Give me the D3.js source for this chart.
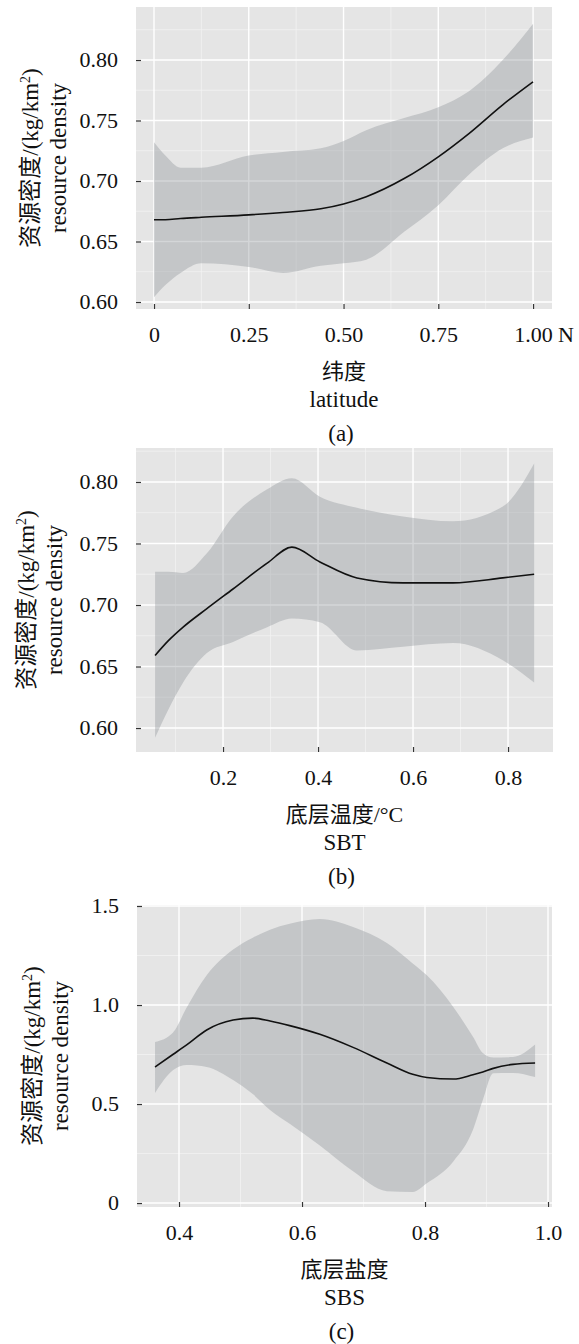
<!DOCTYPE html>
<html lang="zh">
<head>
<meta charset="utf-8">
<title>资源密度 smooth fits</title>
<script src="https://cdn.jsdelivr.net/npm/d3@7"></script>
<style>
  body { margin: 0; background: #fff; }
  svg { display: block; }
  text { font-family: "Liberation Serif", "Noto Sans CJK SC", serif; fill: #111; }
  .axis text { font-size: 22px; font-family: "Liberation Serif", serif; }
  .title { font-size: 23px; }
  .cjk { font-size: 22px; }
  .panel-bg { fill: #e5e5e5; }
  .grid-major { stroke: #fff; stroke-width: 1.4; }
  .grid-minor { stroke: #f3f3f3; stroke-width: 0.8; }
  .band { fill: #8e9399; fill-opacity: 0.38; }
  .fit { fill: none; stroke: #111; stroke-width: 1.6; }
  .axis line { stroke: #333; stroke-width: 1.2; }
  .axis path { display: none; }
</style>
</head>
<body>
<script>
// (a) latitude
var latX     = [0, 0.03, 0.07, 0.125, 0.25, 0.34, 0.44, 0.5, 0.56, 0.66, 0.75, 0.83, 0.92, 1.0];
var latFit   = [0.668, 0.668, 0.669, 0.670, 0.672, 0.674, 0.677, 0.681, 0.687, 0.702, 0.720, 0.739, 0.763, 0.782];
var latUpper = [0.732, 0.721, 0.711, 0.711, 0.721, 0.724, 0.727, 0.733, 0.742, 0.752, 0.761, 0.774, 0.800, 0.830];
var latLower = [0.604, 0.614, 0.624, 0.632, 0.629, 0.624, 0.630, 0.632, 0.635, 0.658, 0.680, 0.705, 0.727, 0.736];
var latXTicks = [0, 0.25, 0.5, 0.75, 1.0];
var latXTickLabels = ["0", "0.25", "0.50", "0.75", "1.00"];

// (b) SBT
var sbtX     = [0.057, 0.085, 0.116, 0.166, 0.221, 0.293, 0.345, 0.404, 0.482, 0.579, 0.684, 0.789, 0.855];
var sbtFit   = [0.659, 0.671, 0.682, 0.697, 0.713, 0.734, 0.747, 0.735, 0.722, 0.718, 0.718, 0.722, 0.725];
var sbtUpper = [0.727, 0.727, 0.726, 0.742, 0.772, 0.794, 0.803, 0.788, 0.779, 0.772, 0.768, 0.780, 0.815];
var sbtLower = [0.592, 0.615, 0.637, 0.661, 0.670, 0.682, 0.689, 0.686, 0.663, 0.666, 0.669, 0.655, 0.637];
var sbtXTicks = [0.2, 0.4, 0.6, 0.8];
var sbtXTickLabels = ["0.2", "0.4", "0.6", "0.8"];

// (c) SBS
var sbsX     = [0.361, 0.39, 0.413, 0.445, 0.488, 0.52, 0.548, 0.58, 0.629, 0.683, 0.738, 0.78, 0.803, 0.846, 0.878, 0.894, 0.911, 0.943, 0.979];
var sbsFit   = [0.687, 0.75, 0.80, 0.874, 0.924, 0.934, 0.919, 0.896, 0.852, 0.786, 0.707, 0.650, 0.634, 0.626, 0.648, 0.662, 0.680, 0.700, 0.707];
var sbsUpper = [0.813, 0.86, 0.99, 1.15, 1.28, 1.34, 1.38, 1.41, 1.434, 1.394, 1.313, 1.21, 1.15, 0.99, 0.84, 0.758, 0.735, 0.737, 0.80];
var sbsLower = [0.556, 0.67, 0.697, 0.687, 0.621, 0.55, 0.47, 0.40, 0.29, 0.16, 0.06, 0.056, 0.10, 0.21, 0.37, 0.52, 0.655, 0.657, 0.636];
var sbsXTicks = [0.4, 0.6, 0.8, 1.0];
var sbsXTickLabels = ["0.4", "0.6", "0.8", "1.0"];

// y axis ticks
var densYTicks = [0.60, 0.65, 0.70, 0.75, 0.80];
var densYTickLabels = ["0.60", "0.65", "0.70", "0.75", "0.80"];
var sbsYTicks = [0, 0.5, 1.0, 1.5];
var sbsYTickLabels = ["0", "0.5", "1.0", "1.5"];

var panels = [
  { xs: latX, fit: latFit, upper: latUpper, lower: latLower,
    xTicks: latXTicks, xLabels: latXTickLabels, yTicks: densYTicks, yLabels: densYTickLabels,
    xTitle: "纬度", xTitleEn: "latitude", tag: "(a)", unit: "N",
    left: 136, right: 552, top: 7, bottom: 309,
    xDomain: [-0.0475, 1.05], yDomain: [0.5942, 0.8438], yTitleX: [38, 66] },
  { xs: sbtX, fit: sbtFit, upper: sbtUpper, lower: sbtLower,
    xTicks: sbtXTicks, xLabels: sbtXTickLabels, yTicks: densYTicks, yLabels: densYTickLabels,
    xTitle: "底层温度/°C", xTitleEn: "SBT", tag: "(b)",
    left: 136, right: 553, top: 448, bottom: 752,
    xDomain: [0.0168, 0.8947], yDomain: [0.5805, 0.8276], yTitleX: [34, 62] },
  { xs: sbsX, fit: sbsFit, upper: sbsUpper, lower: sbsLower,
    xTicks: sbsXTicks, xLabels: sbsXTickLabels, yTicks: sbsYTicks, yLabels: sbsYTickLabels,
    xTitle: "底层盐度", xTitleEn: "SBS", tag: "(c)",
    left: 137, right: 552, top: 905, bottom: 1207,
    xDomain: [0.3317, 1.0065], yDomain: [-0.02, 1.505], yTitleX: [40, 68] }
];

var svg = d3.select("body").append("svg")
  .attr("width", 579)
  .attr("height", 1344);

// minor grid = midpoints between major ticks, plus one step outside each end
function minorOf(ticks, domain) {
  var step = ticks[1] - ticks[0];
  var out = [];
  for (var i = -1; i < ticks.length; i++) {
    var v = ticks[0] + (i + 0.5) * step;
    if (v > domain[0] && v < domain[1]) out.push(v);
  }
  return out;
}

panels.forEach(function(p, k) {
  var w = p.right - p.left,
      h = p.bottom - p.top;

  var x = d3.scaleLinear().domain(p.xDomain).range([0, w]);
  var y = d3.scaleLinear().domain(p.yDomain).range([h, 0]);

  var g = svg.append("g")
    .attr("transform", "translate(" + p.left + "," + p.top + ")");

  g.append("clipPath")
    .attr("id", "clip" + k)
    .append("rect")
    .attr("width", w)
    .attr("height", h);

  g.append("rect")
    .attr("class", "panel-bg")
    .attr("width", w)
    .attr("height", h);

  g.selectAll(".vminor")
    .data(minorOf(p.xTicks, p.xDomain))
    .enter().append("line")
    .attr("class", "grid-minor")
    .attr("x1", function(d) { return x(d); })
    .attr("x2", function(d) { return x(d); })
    .attr("y1", 0).attr("y2", h);

  g.selectAll(".hminor")
    .data(minorOf(p.yTicks, p.yDomain))
    .enter().append("line")
    .attr("class", "grid-minor")
    .attr("y1", function(d) { return y(d); })
    .attr("y2", function(d) { return y(d); })
    .attr("x1", 0).attr("x2", w);

  g.selectAll(".vmajor")
    .data(p.xTicks)
    .enter().append("line")
    .attr("class", "grid-major")
    .attr("x1", function(d) { return x(d); })
    .attr("x2", function(d) { return x(d); })
    .attr("y1", 0).attr("y2", h);

  g.selectAll(".hmajor")
    .data(p.yTicks)
    .enter().append("line")
    .attr("class", "grid-major")
    .attr("y1", function(d) { return y(d); })
    .attr("y2", function(d) { return y(d); })
    .attr("x1", 0).attr("x2", w);

  var rows = p.xs.map(function(v, i) {
    return { x: v, fit: p.fit[i], lo: p.lower[i], hi: p.upper[i] };
  });

  var band = d3.area()
    .curve(d3.curveMonotoneX)
    .x(function(d) { return x(d.x); })
    .y0(function(d) { return y(d.lo); })
    .y1(function(d) { return y(d.hi); });

  var line = d3.line()
    .curve(d3.curveMonotoneX)
    .x(function(d) { return x(d.x); })
    .y(function(d) { return y(d.fit); });

  g.append("path")
    .datum(rows)
    .attr("class", "band")
    .attr("clip-path", "url(#clip" + k + ")")
    .attr("d", band);

  g.append("path")
    .datum(rows)
    .attr("class", "fit")
    .attr("d", line);

  // ticks sit just inside the panel edge
  g.append("g")
    .attr("class", "axis")
    .attr("transform", "translate(0," + h + ")")
    .call(d3.axisBottom(x)
      .tickValues(p.xTicks)
      .tickFormat(function(d, i) { return p.xLabels[i]; })
      .tickSizeInner(-5).tickSizeOuter(0).tickPadding(17));

  g.append("g")
    .attr("class", "axis")
    .call(d3.axisLeft(y)
      .tickValues(p.yTicks)
      .tickFormat(function(d, i) { return p.yLabels[i]; })
      .tickSizeInner(-5).tickSizeOuter(0).tickPadding(18))
    .selectAll("text")
    .attr("dy", "0.3em");

  if (p.unit) {
    g.append("text")
      .attr("x", x(p.xTicks[p.xTicks.length - 1]) + 25)
      .attr("y", h + 33)
      .style("font-size", "22px")
      .style("font-family", "'Liberation Serif', serif")
      .text(p.unit);
  }

  var cx = w / 2,
      cy = h / 2;

  g.append("text")
    .attr("class", "title cjk")
    .attr("text-anchor", "middle")
    .attr("x", cx)
    .attr("y", h + 70)
    .text(p.xTitle);

  g.append("text")
    .attr("class", "title")
    .attr("text-anchor", "middle")
    .style("font-family", "'Liberation Serif', serif")
    .attr("x", cx)
    .attr("y", h + 98)
    .text(p.xTitleEn);

  g.append("text")
    .attr("class", "title")
    .attr("text-anchor", "middle")
    .style("font-family", "'Liberation Serif', serif")
    .attr("x", cx - 3)
    .attr("y", h + 132)
    .text(p.tag);

  // y title, two rotated lines
  var yt = g.append("text")
    .attr("class", "title")
    .attr("text-anchor", "middle")
    .attr("transform", "translate(" + (p.yTitleX[0] - p.left) + "," + cy + ") rotate(-90)");
  yt.append("tspan").text("资源密度/(kg/km");
  yt.append("tspan").attr("dy", -8).style("font-size", "14px").text("2");
  yt.append("tspan").attr("dy", 8).text(")");

  g.append("text")
    .attr("class", "title")
    .attr("text-anchor", "middle")
    .style("font-family", "'Liberation Serif', serif")
    .attr("transform", "translate(" + (p.yTitleX[1] - p.left) + "," + cy + ") rotate(-90)")
    .text("resource density");
});
</script>
</body>
</html>
